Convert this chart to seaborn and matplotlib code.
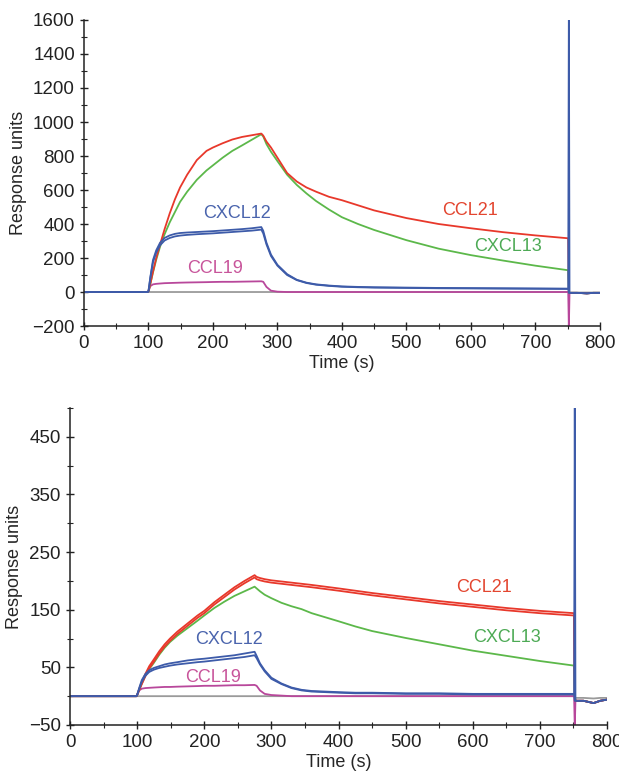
import numpy as np
import pandas as pd
import matplotlib
matplotlib.use("Agg")
import matplotlib.pyplot as plt
from matplotlib.ticker import MultipleLocator
import seaborn as sns

# time grid (s) shared by every trace
t = [0, 50, 99, 100, 103, 107, 112, 118, 125, 133, 141, 149, 160, 175, 190, 200,
     215, 230, 245, 260, 275, 278, 283, 290, 300, 315, 330, 345, 360, 380, 400,
     425, 450, 500, 550, 600, 650, 700, 751, 752, 753, 765, 780, 790, 800]

# ---- top panel (response units) ----
top_ccl21 = [0, 0, 0, 5, 50, 120, 200, 280, 370, 463, 545, 615, 690, 776, 830, 850,
             875, 897, 912, 922, 932, 920, 885, 850, 790, 700, 650, 615, 590, 560, 540,
             510, 480, 435, 400, 375, 352, 333, 316, 0, -5, -5, -8, -5, -5]
top_cxcl13 = [0, 0, 0, 5, 50, 115, 190, 267, 340, 410, 470, 530, 590, 660, 715, 745,
              790, 830, 862, 895, 928, 915, 870, 825, 770, 690, 630, 580, 535, 485, 440,
              400, 365, 305, 255, 217, 185, 155, 128, 0, -5, -5, -8, -5, -5]
top_cxcl12_a = [0, 0, 0, 5, 90, 188, 245, 290, 318, 333, 342, 347, 350, 353, 356, 358,
                362, 366, 370, 375, 382, 360, 290, 220, 160, 105, 72, 55, 45, 38, 33,
                30, 28, 26, 24, 23, 22, 21, 20, 1700, -5, -5, -8, -5, -5]
top_cxcl12_b = [0, 0, 0, 5, 85, 175, 232, 275, 303, 318, 327, 332, 336, 340, 343, 345,
                349, 353, 357, 361, 367, 345, 280, 212, 155, 100, 70, 53, 43, 36, 31,
                28, 26, 24, 22, 21, 20, 19, 18, -5, -5, -5, -8, -5, -5]
top_ccl19 = [0, 0, 0, 5, 35, 45, 48, 50, 52, 53, 54, 55, 56, 57, 58, 59,
             60, 60, 61, 62, 63, 60, 30, 8, 2, 0, 0, 0, 0, 0, 0,
             0, 0, 0, 0, 0, 0, 0, 0, -210, -5, -5, -8, -5, -5]
top_ref = [0] * 40 + [-3, -3, -3, -3, -3]

# ---- bottom panel (response units) ----
bot_ccl21_a = [0, 0, 0, 2, 12, 24, 38, 52, 64, 78, 90, 100, 112, 126, 140, 148,
               163, 176, 189, 200, 210, 207, 205, 203, 201, 199, 197, 195, 193, 190, 187,
               183, 179, 172, 165, 159, 153, 148, 144, 0, -8, -8, -12, -8, -6]
bot_ccl21_b = [0, 0, 0, 2, 10, 21, 34, 48, 60, 74, 86, 96, 108, 122, 136, 144,
               159, 172, 185, 196, 206, 203, 201, 199, 197, 195, 193, 191, 189, 186, 183,
               179, 175, 168, 161, 155, 149, 144, 140, 0, -8, -8, -12, -8, -6]
bot_cxcl13 = [0, 0, 0, 2, 11, 22, 35, 47, 58, 72, 84, 94, 105, 118, 131, 140,
              153, 164, 174, 182, 190, 187, 182, 176, 170, 162, 156, 151, 144, 137, 130,
              121, 113, 101, 90, 79, 70, 61, 53, 0, -8, -8, -12, -8, -6]
bot_cxcl12_a = [0, 0, 0, 2, 14, 28, 38, 45, 49, 52, 55, 57, 59, 62, 64, 65,
                67, 69, 71, 74, 77, 70, 57, 45, 32, 22, 15, 11, 9, 8, 7,
                6, 6, 5, 5, 4, 4, 4, 4, 510, -8, -8, -12, -8, -6]
bot_cxcl12_b = [0, 0, 0, 2, 12, 25, 35, 42, 46, 49, 51, 53, 55, 57, 59, 60,
                62, 64, 66, 68, 71, 66, 55, 43, 30, 21, 14, 10, 8, 7, 6,
                5, 5, 4, 4, 3, 3, 3, 3, -8, -8, -8, -12, -8, -6]
bot_ccl19 = [0, 0, 0, 2, 10, 13, 14, 14.5, 15, 15.5, 16, 16, 16.5, 17, 17.5, 18,
             18, 18.5, 19, 19, 19.5, 18, 10, 4, 2, 1, 0, 0, 0, 0, 0,
             0, 0, 0, 0, 0, 0, 0, 0, -55, -8, -8, -12, -8, -6]
bot_ref = [0] * 40 + [-3, -3, -4, -3, -3]

colors = {"ref": "#9a9a9a", "CCL19": "#b8479b", "CXCL13": "#5cb84a",
          "CCL21": "#e8382b", "CXCL12": "#3d5ba9"}
label_colors = {"CXCL12": "#4a64ad", "CCL19": "#c8559b",
                "CCL21": "#e3452f", "CXCL13": "#4daa55"}


def make_df(traces):
    rows = []
    for name, rep, vals in traces:
        for ti, vi in zip(t, vals):
            rows.append({"series": name, "rep": f"{name}_{rep}", "t": ti, "v": vi})
    return pd.DataFrame(rows)


df_top = make_df([("ref", 1, top_ref), ("CCL19", 1, top_ccl19),
                  ("CXCL13", 1, top_cxcl13), ("CCL21", 1, top_ccl21),
                  ("CXCL12", 1, top_cxcl12_b), ("CXCL12", 2, top_cxcl12_a)])
df_bot = make_df([("ref", 1, bot_ref), ("CCL19", 1, bot_ccl19),
                  ("CXCL13", 1, bot_cxcl13), ("CCL21", 1, bot_ccl21_b),
                  ("CCL21", 2, bot_ccl21_a), ("CXCL12", 1, bot_cxcl12_b),
                  ("CXCL12", 2, bot_cxcl12_a)])

sns.set_style("ticks")
plt.rcParams["font.family"] = ["Liberation Sans", "DejaVu Sans"]

fig = plt.figure(figsize=(6.19, 7.72), dpi=100)
ax1 = fig.add_axes([0.1357, 0.5777, 0.8333, 0.3964])
ax2 = fig.add_axes([0.1131, 0.0609, 0.8675, 0.4106])

hue_order = ["ref", "CCL19", "CXCL13", "CCL21", "CXCL12"]
for ax, df in [(ax1, df_top), (ax2, df_bot)]:
    sns.lineplot(data=df, x="t", y="v", hue="series", units="rep", estimator=None,
                 sort=False, hue_order=hue_order, palette=colors, legend=False,
                 linewidth=1.3, ax=ax)
    sns.despine(ax=ax)
    ax.set_xlim(0, 800)
    ax.xaxis.set_major_locator(MultipleLocator(100))
    ax.xaxis.set_minor_locator(MultipleLocator(50))
    ax.tick_params(which="major", direction="inout", length=6, width=1,
                   labelsize=13.5, colors="#222222")
    ax.tick_params(which="minor", direction="inout", length=4, width=0.8)
    for s in ["left", "bottom"]:
        ax.spines[s].set_linewidth(1.1)
        ax.spines[s].set_color("#222222")
    ax.set_xlabel("Time (s)", fontsize=13, labelpad=2)
    ax.set_ylabel("Response units", fontsize=13, labelpad=4)

ax1.set_ylim(-200, 1600)
ax1.yaxis.set_major_locator(MultipleLocator(200))
ax1.yaxis.set_minor_locator(MultipleLocator(100))

ax2.set_ylim(-50, 500)
ax2.set_yticks([-50, 50, 150, 250, 350, 450])
ax2.set_yticks([0, 100, 200, 300, 400, 500], minor=True)

# series labels
ax1.text(237, 459, "CXCL12", color=label_colors["CXCL12"], fontsize=13, ha="center", va="center")
ax1.text(203, 141, "CCL19", color=label_colors["CCL19"], fontsize=13, ha="center", va="center")
ax1.text(598, 482, "CCL21", color=label_colors["CCL21"], fontsize=13, ha="center", va="center")
ax1.text(657, 265, "CXCL13", color=label_colors["CXCL13"], fontsize=13, ha="center", va="center")

ax2.text(237, 98, "CXCL12", color=label_colors["CXCL12"], fontsize=13, ha="center", va="center")
ax2.text(213, 33, "CCL19", color=label_colors["CCL19"], fontsize=13, ha="center", va="center")
ax2.text(617, 188, "CCL21", color=label_colors["CCL21"], fontsize=13, ha="center", va="center")
ax2.text(651, 101, "CXCL13", color=label_colors["CXCL13"], fontsize=13, ha="center", va="center")

fig.savefig("out.png", dpi=100)
